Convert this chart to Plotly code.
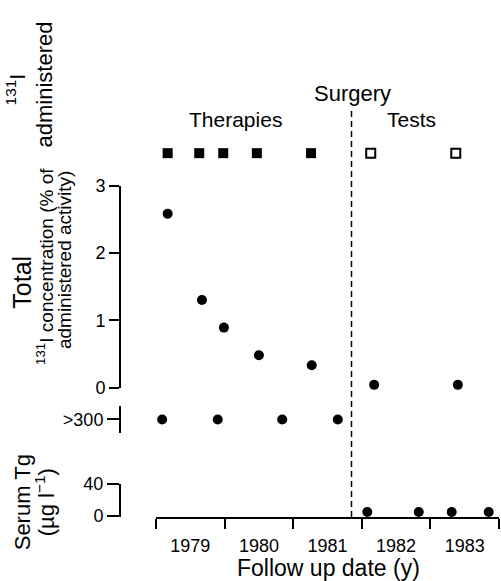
import plotly.graph_objects as go

# ---------------- data ----------------
therapy_dates = [1979.17, 1979.63, 1979.98, 1980.47, 1981.26]   # 131I therapies (filled squares)
test_dates = [1982.13, 1983.37]                                  # 131I tests (open squares)
dose_row = ["dose"]

conc_dates = [1979.17, 1979.67, 1979.99, 1980.50, 1981.27, 1982.18, 1983.40]
conc_values = [2.58, 1.30, 0.89, 0.48, 0.33, 0.04, 0.04]         # % of administered activity

high_tg_dates = [1979.09, 1979.90, 1980.84, 1981.65]
high_tg_row = [">300"]

tg_dates = [1982.08, 1982.83, 1983.31, 1983.85]
tg_values = [5, 5, 5, 5]                                         # µg/l

surgery_date = 1981.85
year_edges = [1979, 1980, 1981, 1982, 1983, 1984]
year_mids = [1979.5, 1980.5, 1981.5, 1982.5, 1983.5]
year_labels = ["1979", "1980", "1981", "1982", "1983"]
conc_ticks = [0, 1, 2, 3]
tg_ticks = [0, 40]

# ---------------- layout helpers (pixel -> paper) ----------------
W, H = 501, 581
ML, MB = 120, 64
PW, PH = W - ML, H - MB
FONT = "Liberation Sans, Arial, Helvetica, sans-serif"


def px(x):
    return (x - ML) / PW


def py(y):
    return (PH - y) / PH


fig = go.Figure()

fig.add_trace(go.Scatter(x=therapy_dates, y=dose_row * len(therapy_dates), yaxis="y4", mode="markers",
                         marker=dict(symbol="square", size=10, color="black"), cliponaxis=False,
                         showlegend=False))
fig.add_trace(go.Scatter(x=test_dates, y=dose_row * len(test_dates), yaxis="y4", mode="markers",
                         marker=dict(symbol="square-open", size=9, color="black", line=dict(width=2)),
                         cliponaxis=False, showlegend=False))
fig.add_trace(go.Scatter(x=conc_dates, y=conc_values, yaxis="y", mode="markers",
                         marker=dict(symbol="circle", size=10, color="black"), cliponaxis=False,
                         showlegend=False))
fig.add_trace(go.Scatter(x=high_tg_dates, y=high_tg_row * len(high_tg_dates), yaxis="y2", mode="markers",
                         marker=dict(symbol="circle", size=10, color="black"), cliponaxis=False,
                         showlegend=False))
fig.add_trace(go.Scatter(x=tg_dates, y=tg_values, yaxis="y3", mode="markers",
                         marker=dict(symbol="circle", size=10, color="black"), cliponaxis=False,
                         showlegend=False))

axis_common = dict(showline=True, linecolor="black", linewidth=2, showgrid=False, zeroline=False,
                   ticks="outside", tickcolor="black", tickwidth=2,
                   tickfont=dict(family=FONT, size=18, color="black"))

fig.update_layout(
    width=W, height=H,
    margin=dict(l=ML, r=0, t=0, b=MB),
    paper_bgcolor="white", plot_bgcolor="white",
    font=dict(family=FONT, color="black"),
    xaxis=dict(domain=[px(156), px(499)], range=[year_edges[0], year_edges[-1]], anchor="y3",
               showline=True, linecolor="black", linewidth=2, showgrid=False, zeroline=False,
               tickmode="array", tickvals=year_mids, ticktext=year_labels,
               ticks="outside", ticklen=11, tickcolor="rgba(0,0,0,0)",
               tickfont=dict(family=FONT, size=18, color="black"),
               minor=dict(tickmode="array", tickvals=year_edges, ticks="outside", ticklen=10,
                          tickwidth=2, tickcolor="black", showgrid=False)),
    yaxis=dict(domain=[py(385), py(179)], range=[0, 3], anchor="free", position=0,
               tickmode="array", tickvals=conc_ticks, ticklen=10, **axis_common),
    yaxis2=dict(domain=[py(431), py(404)], type="category", range=[-0.5, 0.5], anchor="free", position=0,
                ticklen=12, **axis_common),
    yaxis3=dict(domain=[py(517), py(483)], range=[-1.2, 40], anchor="free", position=0,
                tickmode="array", tickvals=tg_ticks, ticklen=12, **axis_common),
    yaxis4=dict(domain=[py(162), py(130)], type="category", range=[-0.5, 0.5], anchor="free", position=0,
                visible=False),
)

fig.add_shape(type="line", xref="x", yref="paper", x0=surgery_date, x1=surgery_date, y0=0, y1=py(102),
              line=dict(color="black", width=1.5, dash="6px,4px"))


def note(text, x, y, size, angle=0):
    fig.add_annotation(text=text, xref="paper", yref="paper", x=px(x), y=py(y), showarrow=False,
                       xanchor="center", yanchor="middle", textangle=angle,
                       font=dict(family=FONT, size=size, color="black"))


note("Surgery", 352, 85, 22)
note("Therapies", 235, 112, 21)
note("Tests", 411, 112, 21)
note("Follow up date (y)", 328, 569, 23)

note("<sup>131</sup>I", 16, 81, 22, -90)
note("administered", 45, 76, 22, -90)
note("Total", 22, 277, 25, -90)
note("<sup>131</sup>I concentration (% of", 45, 262, 19, -90)
note("administered activity)", 64, 255, 19, -90)
note("Serum Tg", 22, 502, 22, -90)
note("(µg l<sup>−1</sup>)", 45, 502, 22, -90)

fig.write_html("out.html", config={"displayModeBar": False},
               post_script="document.body.style.margin='0';document.body.style.overflow='hidden';")
